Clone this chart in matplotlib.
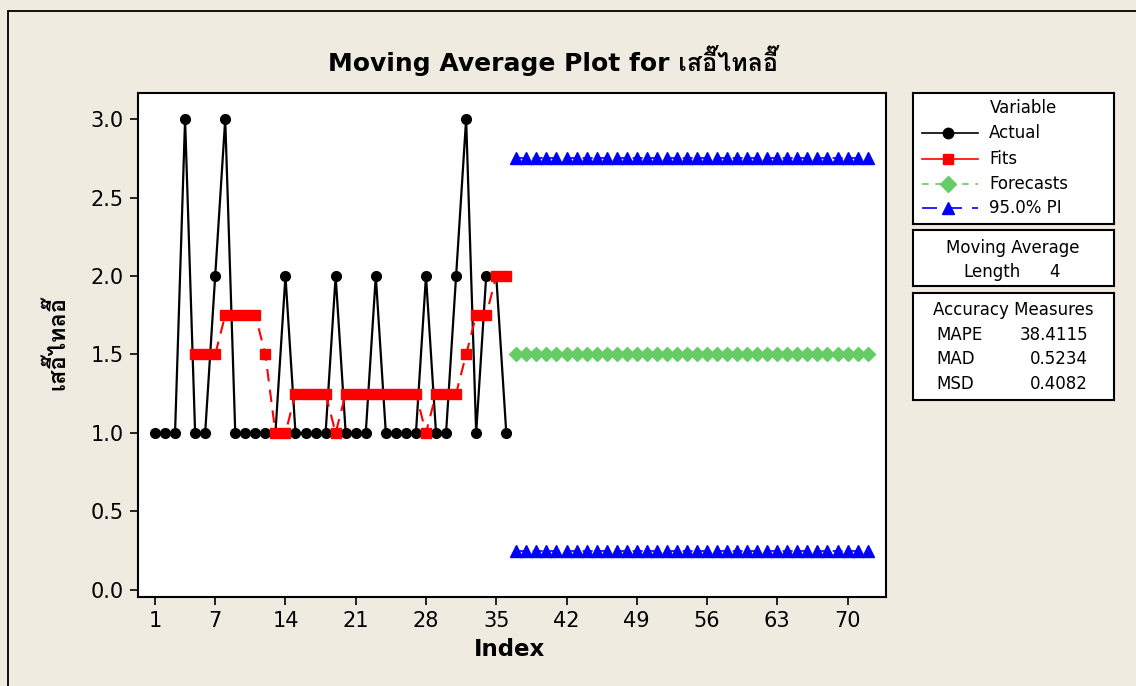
import matplotlib
matplotlib.use("Agg")
import matplotlib.pyplot as plt
from matplotlib.patches import Rectangle
from matplotlib import font_manager

# ---------------- data ----------------
actual_idx = list(range(1, 37))
actual = [1, 1, 1, 3, 1, 1, 2, 3, 1, 1, 1, 1, 1, 2, 1, 1, 1, 1,
          2, 1, 1, 1, 2, 1, 1, 1, 1, 2, 1, 1, 2, 3, 1, 2, 2, 1]
fits_idx = list(range(5, 37))
fits = [1.5, 1.5, 1.5, 1.75, 1.75, 1.75, 1.75, 1.5, 1.0, 1.0,
        1.25, 1.25, 1.25, 1.25, 1.0, 1.25, 1.25, 1.25, 1.25, 1.25,
        1.25, 1.25, 1.25, 1.0, 1.25, 1.25, 1.25, 1.5, 1.75, 1.75, 2.0, 2.0]
fc_idx = list(range(37, 73))
forecast_value = 1.5
pi_upper_value = 2.75
pi_lower_value = 0.25
xticks = [1, 7, 14, 21, 28, 35, 42, 49, 56, 63, 70]
yticks = [0.0, 0.5, 1.0, 1.5, 2.0, 2.5, 3.0]
thai_name = "เสอี๊ไทลอี๊"
title_text = "Moving Average Plot for " + thai_name
legend_labels = ["Actual", "Fits", "Forecasts", "95.0% PI"]
ma_length = 4
acc_names = ["MAPE", "MAD", "MSD"]
acc_values = ["38.4115", "0.5234", "0.4082"]

# ---------------- fonts ----------------
thai_family = None
try:
    from fontTools.ttLib import TTFont
    for f in font_manager.fontManager.ttflist:
        try:
            tt = TTFont(f.fname, fontNumber=0, lazy=True)
            cmap = tt.getBestCmap()
            if cmap and 0x0E2A in cmap and 0x0E44 in cmap:
                thai_family = f.name
                break
        except Exception:
            pass
except Exception:
    pass
fams = ["DejaVu Sans"] + ([thai_family] if thai_family else [])
plt.rcParams['font.family'] = fams

W, H = 1136, 686
BG = "#EFEBE1"
fig = plt.figure(figsize=(W / 100, H / 100), dpi=100, facecolor=BG)

def fx(px):
    return px / W

def fy(py):
    return 1 - py / H

# outer frame
fig.patches.append(Rectangle((fx(8), -0.1), 1.2, fy(11) + 0.1,
                             transform=fig.transFigure, fill=False,
                             edgecolor="black", linewidth=1.3, clip_on=False))

L, R, T, B = 137.7, 885.7, 93.3, 596.7
ax = fig.add_axes([fx(L), fy(B), fx(R - L), (B - T) / H])
ax.set_facecolor("white")

n_fc = len(fc_idx)
ax.plot(actual_idx, actual, color="black", lw=1.6, marker="o", ms=7,
        zorder=4)
ax.plot(fits_idx, fits, color="red", lw=1.5, ls=(0, (6, 4)), marker="s",
        ms=7, zorder=5)
ax.plot(fc_idx, [forecast_value] * n_fc, color="#66CC66", lw=1.2,
        ls=(0, (6, 4)), marker="D", ms=7.5, zorder=3)
ax.plot(fc_idx, [pi_upper_value] * n_fc, color="blue", lw=1.2,
        ls=(0, (6, 4)), marker="^", ms=9, zorder=3)
ax.plot(fc_idx, [pi_lower_value] * n_fc, color="blue", lw=1.2,
        ls=(0, (6, 4)), marker="^", ms=9, zorder=3)

ax.set_xlim(-0.72, 73.8)
ax.set_ylim(-0.043, 3.164)
ax.set_xticks(xticks)
ax.set_yticks(yticks)
ax.set_yticklabels([f"{v:.1f}" for v in yticks])
ax.tick_params(direction="out", length=6, width=1.2, labelsize=15,
               pad=4)
for s in ax.spines.values():
    s.set_linewidth(1.5)

fig.text(fx(509), fy(650), "Index", ha="center", va="center",
         fontsize=16.5, fontweight="bold")
fig.text(fx(57), fy(343), thai_name, ha="center", va="center",
         rotation=90, fontsize=17, fontweight="bold")
fig.text(fx(553), fy(60), title_text, ha="center", va="center",
         fontsize=18, fontweight="bold")

# ---------------- legend boxes ----------------
def box(x0, y0, x1, y1):
    b = fig.add_axes([fx(x0), fy(y1), fx(x1 - x0), (y1 - y0) / H])
    b.set_xlim(x0, x1)
    b.set_ylim(y1, y0)
    b.set_xticks([])
    b.set_yticks([])
    b.set_facecolor("white")
    for s in b.spines.values():
        s.set_linewidth(1.5)
    return b

FS = 12
b1 = box(913, 93, 1114, 224)
b1.text(1023, 108, "Variable", ha="center", va="center", fontsize=FS)
rows = [133, 159, 184, 208]
styles = [
    dict(color="black", ls="-", marker="o", ms=7.5),
    dict(color="red", ls="-", marker="s", ms=7.5),
    dict(color="#66CC66", ls=(0, (4, 4)), marker="D", ms=8),
    dict(color="blue", ls=(0, (9, 6)), marker="^", ms=9),
]
for yv, st, lab in zip(rows, styles, legend_labels):
    b1.plot([922, 948, 978], [yv, yv, yv], lw=1.2, markevery=[1], **st)
    b1.text(989, yv, lab, ha="left", va="center", fontsize=FS)

b2 = box(913, 230, 1114, 286)
b2.text(1013, 248, "Moving Average", ha="center", va="center", fontsize=FS)
b2.text(963, 272, "Length", ha="left", va="center", fontsize=FS)
b2.text(1055, 272, str(ma_length), ha="center", va="center", fontsize=FS)

b3 = box(913, 293, 1114, 400)
b3.text(1013, 310, "Accuracy Measures", ha="center", va="center",
        fontsize=FS)
for i, (nm, v) in enumerate(zip(acc_names, acc_values)):
    yv = 335 + i * 24.5
    b3.text(936, yv, nm, ha="left", va="center", fontsize=FS)
    b3.text(1088, yv, v, ha="right", va="center", fontsize=FS)

fig.savefig("out.png", dpi=100, facecolor=BG)
